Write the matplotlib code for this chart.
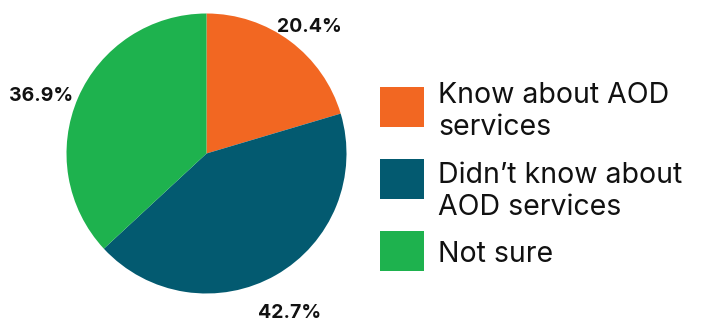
import numpy as np
import matplotlib
matplotlib.use("Agg")
import matplotlib.pyplot as plt
from matplotlib.patches import Rectangle

categories = ["Know about AOD\nservices", "Didn\u2019t know about\nAOD services", "Not sure"]
shares = [20.4, 42.7, 36.9]
colors = ["#F26722", "#035A70", "#1EB24E"]

W, H = 703, 322
DPI = 100
plt.rcParams["font.family"] = ["Inter", "DejaVu Sans"]

fig = plt.figure(figsize=(W / DPI, H / DPI), dpi=DPI)
fig.patch.set_facecolor("white")

# Pie axes placed by pixel extents (center ~ (206.5, 153.5), radius 140)
cx, cy, r = 206.5, 153.5, 140
ax = fig.add_axes([(cx - r) / W, (H - cy - r) / H, 2 * r / W, 2 * r / H])
wedges, _, autotexts = ax.pie(
    shares, colors=colors, startangle=90, counterclock=False,
    autopct="%.1f%%", pctdistance=1.2,
    wedgeprops=dict(linewidth=0),
    textprops=dict(fontsize=14, fontweight="bold", color="#111111"),
)
# nudge the percentage labels outward (offsets in pie-radius units)
nudges = [(0.02, -0.057), (0.0, -0.097), (-0.082, -0.071)]
for t, (ddx, ddy) in zip(autotexts, nudges):
    px, py = t.get_position()
    t.set_position((px + ddx, py + ddy))

ax.set_aspect("equal")
ax.set_xlim(-1, 1)
ax.set_ylim(-1, 1)
ax.axis("off")

# Legend drawn as colored squares with wrapped labels
box_w, box_h = 44, 40
x0, tx = 380, 438
tops = [87, 159, 231]
first_baselines = [103, 183, 262]
pitch = 32
for color, label, top, base in zip(colors, categories, tops, first_baselines):
    fig.patches.append(Rectangle((x0 / W, (H - top - box_h) / H), box_w / W, box_h / H,
                                 transform=fig.transFigure, facecolor=color,
                                 edgecolor="none"))
    for i, line in enumerate(label.split("\n")):
        fig.text(tx / W, (H - base - i * pitch) / H, line, fontsize=20.5,
                 color="#111111", va="baseline", ha="left")

fig.savefig("out.png", dpi=DPI)
